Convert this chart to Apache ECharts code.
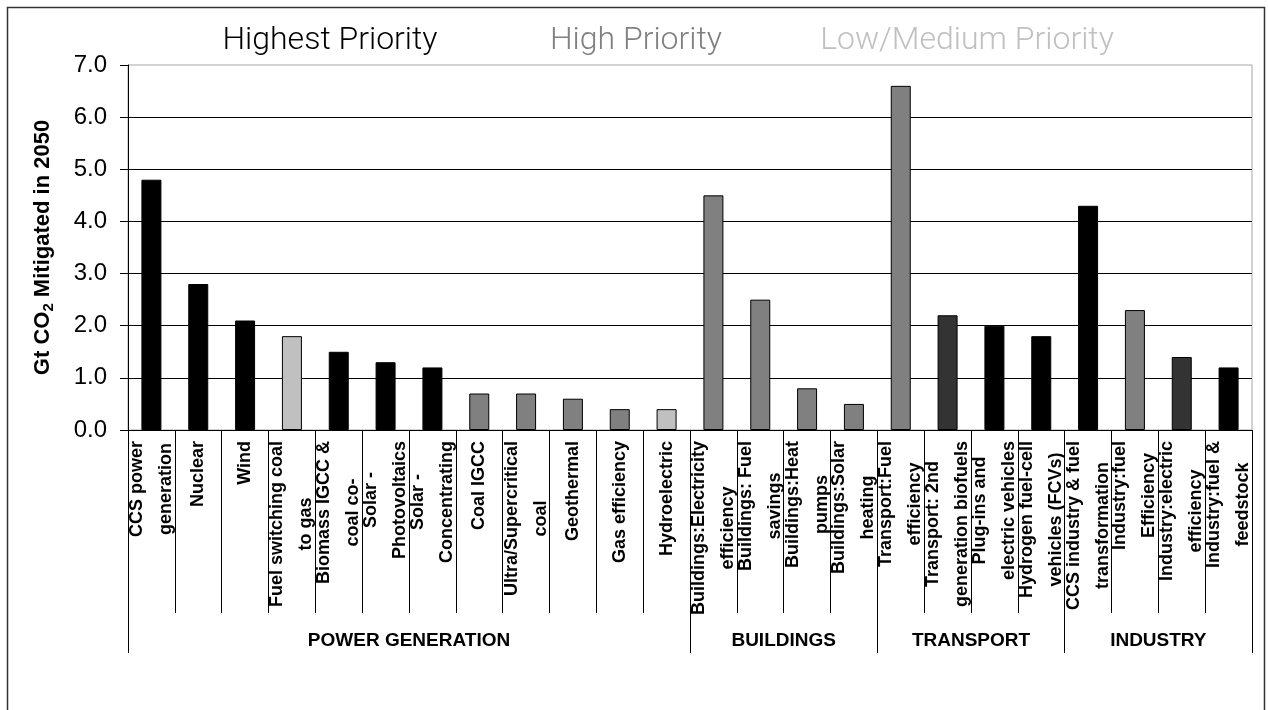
<!DOCTYPE html>
<html>
<head>
<meta charset="utf-8">
<title>Gt CO2 Mitigated in 2050</title>
<script src="https://cdn.jsdelivr.net/npm/echarts@6/dist/echarts.min.js"></script>
<style>
  html, body { margin: 0; padding: 0; background: #ffffff; }
  #chart { width: 1268px; height: 710px; }
</style>
</head>
<body>
<div id="chart"></div>
<script>
// Technology options (line breaks follow the wrapped axis labels)
const categories = [
  'CCS power\ngeneration',
  'Nuclear',
  'Wind',
  'Fuel switching coal\nto gas',
  'Biomass IGCC &\ncoal co-',
  'Solar -\nPhotovoltaics',
  'Solar -\nConcentrating',
  'Coal IGCC',
  'Ultra/Supercritical\ncoal',
  'Geothermal',
  'Gas efficiency',
  'Hydroelectric',
  'Buildings:Electricity\nefficiency',
  'Buildings: Fuel\nsavings',
  'Buildings:Heat\npumps',
  'Buildings:Solar\nheating',
  'Transport:Fuel\nefficiency',
  'Transport: 2nd\ngeneration biofuels',
  'Plug-ins and\nelectric vehicles',
  'Hydrogen fuel-cell\nvehicles (FCVs)',
  'CCS industry & fuel\ntransformation',
  'Industry:fuel\nEfficiency',
  'Industry:electric\nefficiency',
  'Industry:fuel &\nfeedstock'
];

// Gt CO2 mitigated in 2050
const values = [
  4.8, 2.8, 2.1, 1.8, 1.5, 1.3, 1.2, 0.7, 0.7, 0.6, 0.4, 0.4,
  4.5, 2.5, 0.8, 0.5,
  6.6, 2.2, 2.0, 1.8,
  4.3, 2.3, 1.4, 1.2
];

// Fill shade of each bar
const tiers = [
  'highest', 'highest', 'highest', 'low', 'highest', 'highest', 'highest', 'high', 'high', 'high', 'high', 'low',
  'high', 'high', 'high', 'high',
  'high', 'dark', 'highest', 'highest',
  'highest', 'high', 'dark', 'highest'
];

// Sectors and the category index where each one begins / ends
const groupNames = ['POWER GENERATION', 'BUILDINGS', 'TRANSPORT', 'INDUSTRY'];
const groupBounds = [0, 12, 16, 20, 24];

// Priority key shown across the top
const priorityLabels = ['Highest Priority', 'High Priority', 'Low/Medium Priority'];

// Value axis range
const yMin = 0;
const yMax = 7;
const yStep = 1;

const shade = { highest: '#000000', dark: '#333333', high: '#808080', low: '#c0c0c0' };
const keyColors = ['#000000', '#808080', '#c0c0c0'];
const keyCenters = [330, 636, 967];

const FONT = '"Liberation Sans", Arial, sans-serif';

const groupMids = groupNames.map((_, i) => (groupBounds[i] + groupBounds[i + 1]) / 2);

const chart = echarts.init(document.getElementById('chart'), null, { renderer: 'canvas' });

chart.setOption({
  backgroundColor: '#ffffff',
  animation: false,
  grid: {
    left: 128,
    right: 16,
    top: 65,
    bottom: 280,
    show: true,
    borderColor: '#a6a6a6',
    borderWidth: 1,
    backgroundColor: 'transparent',
    containLabel: false,
    outerBoundsMode: 'none'
  },
  xAxis: [
    {
      type: 'category',
      data: categories,
      boundaryGap: true,
      axisLine: { show: true, lineStyle: { color: '#000000', width: 1 } },
      axisTick: { show: true, interval: 0, length: 183, lineStyle: { color: '#000000', width: 1 } },
      axisLabel: {
        interval: 0,
        rotate: 90,
        margin: 11,
        color: '#000000',
        formatter: (v) => v.split('\n').map(s => '{c|' + s + '}').join('\n'),
        rich: {
          c: {
            align: 'center',
            fontFamily: FONT,
            fontSize: 18,
            fontWeight: 'bold',
            color: '#000000',
            lineHeight: 29
          }
        }
      },
      splitLine: { show: false }
    },
    {
      type: 'value',
      position: 'bottom',
      min: groupBounds[0],
      max: groupBounds[groupBounds.length - 1],
      axisLine: { show: false },
      axisTick: {
        show: true,
        length: 223,
        customValues: groupBounds,
        lineStyle: { color: '#000000', width: 1 }
      },
      axisLabel: {
        show: true,
        margin: 201,
        customValues: groupMids,
        formatter: (v) => {
          const i = groupMids.indexOf(v);
          return i >= 0 ? groupNames[i] : '';
        },
        fontFamily: FONT,
        fontSize: 19,
        fontWeight: 'bold',
        color: '#000000'
      },
      splitLine: { show: false }
    }
  ],
  yAxis: {
    type: 'value',
    min: yMin,
    max: yMax,
    interval: yStep,
    name: '{t|Gt CO}{s|2}{t| Mitigated in 2050}',
    nameLocation: 'middle',
    nameRotate: 90,
    nameGap: 72,
    nameTextStyle: {
      rich: {
        t: { fontFamily: FONT, fontSize: 22, fontWeight: 'bold', color: '#000000', lineHeight: 26 },
        s: { fontFamily: FONT, fontSize: 15, fontWeight: 'bold', color: '#000000', lineHeight: 26, verticalAlign: 'bottom', padding: [11, 0, 0, 0] }
      }
    },
    axisLine: { show: true, lineStyle: { color: '#000000', width: 1 } },
    axisTick: { show: true, length: 8, lineStyle: { color: '#000000', width: 1 } },
    axisLabel: {
      margin: 21,
      formatter: (v) => v.toFixed(1),
      fontFamily: FONT,
      fontSize: 24,
      color: '#000000'
    },
    splitLine: { show: true, showMinLine: false, showMaxLine: false, lineStyle: { color: '#000000', width: 1 } }
  },
  series: [
    {
      type: 'bar',
      xAxisIndex: 0,
      yAxisIndex: 0,
      barWidth: 20,
      data: values.map((v, i) => ({
        value: v,
        itemStyle: { color: shade[tiers[i]], borderColor: '#000000', borderWidth: 1 }
      }))
    }
  ],
  graphic: [
    {
      type: 'rect',
      silent: true,
      z: 100,
      shape: { x: 7.5, y: 7.5, width: 1257, height: 720 },
      style: { fill: null, stroke: '#333333', lineWidth: 1.5 }
    }
  ].concat(priorityLabels.map((label, i) => ({
    type: 'text',
    silent: true,
    x: keyCenters[i],
    y: 41,
    style: {
      text: label,
      fill: keyColors[i],
      font: '300 32px Roboto, "Liberation Sans", Arial, sans-serif',
      textAlign: 'center',
      textVerticalAlign: 'middle'
    }
  })))
});
</script>
</body>
</html>
